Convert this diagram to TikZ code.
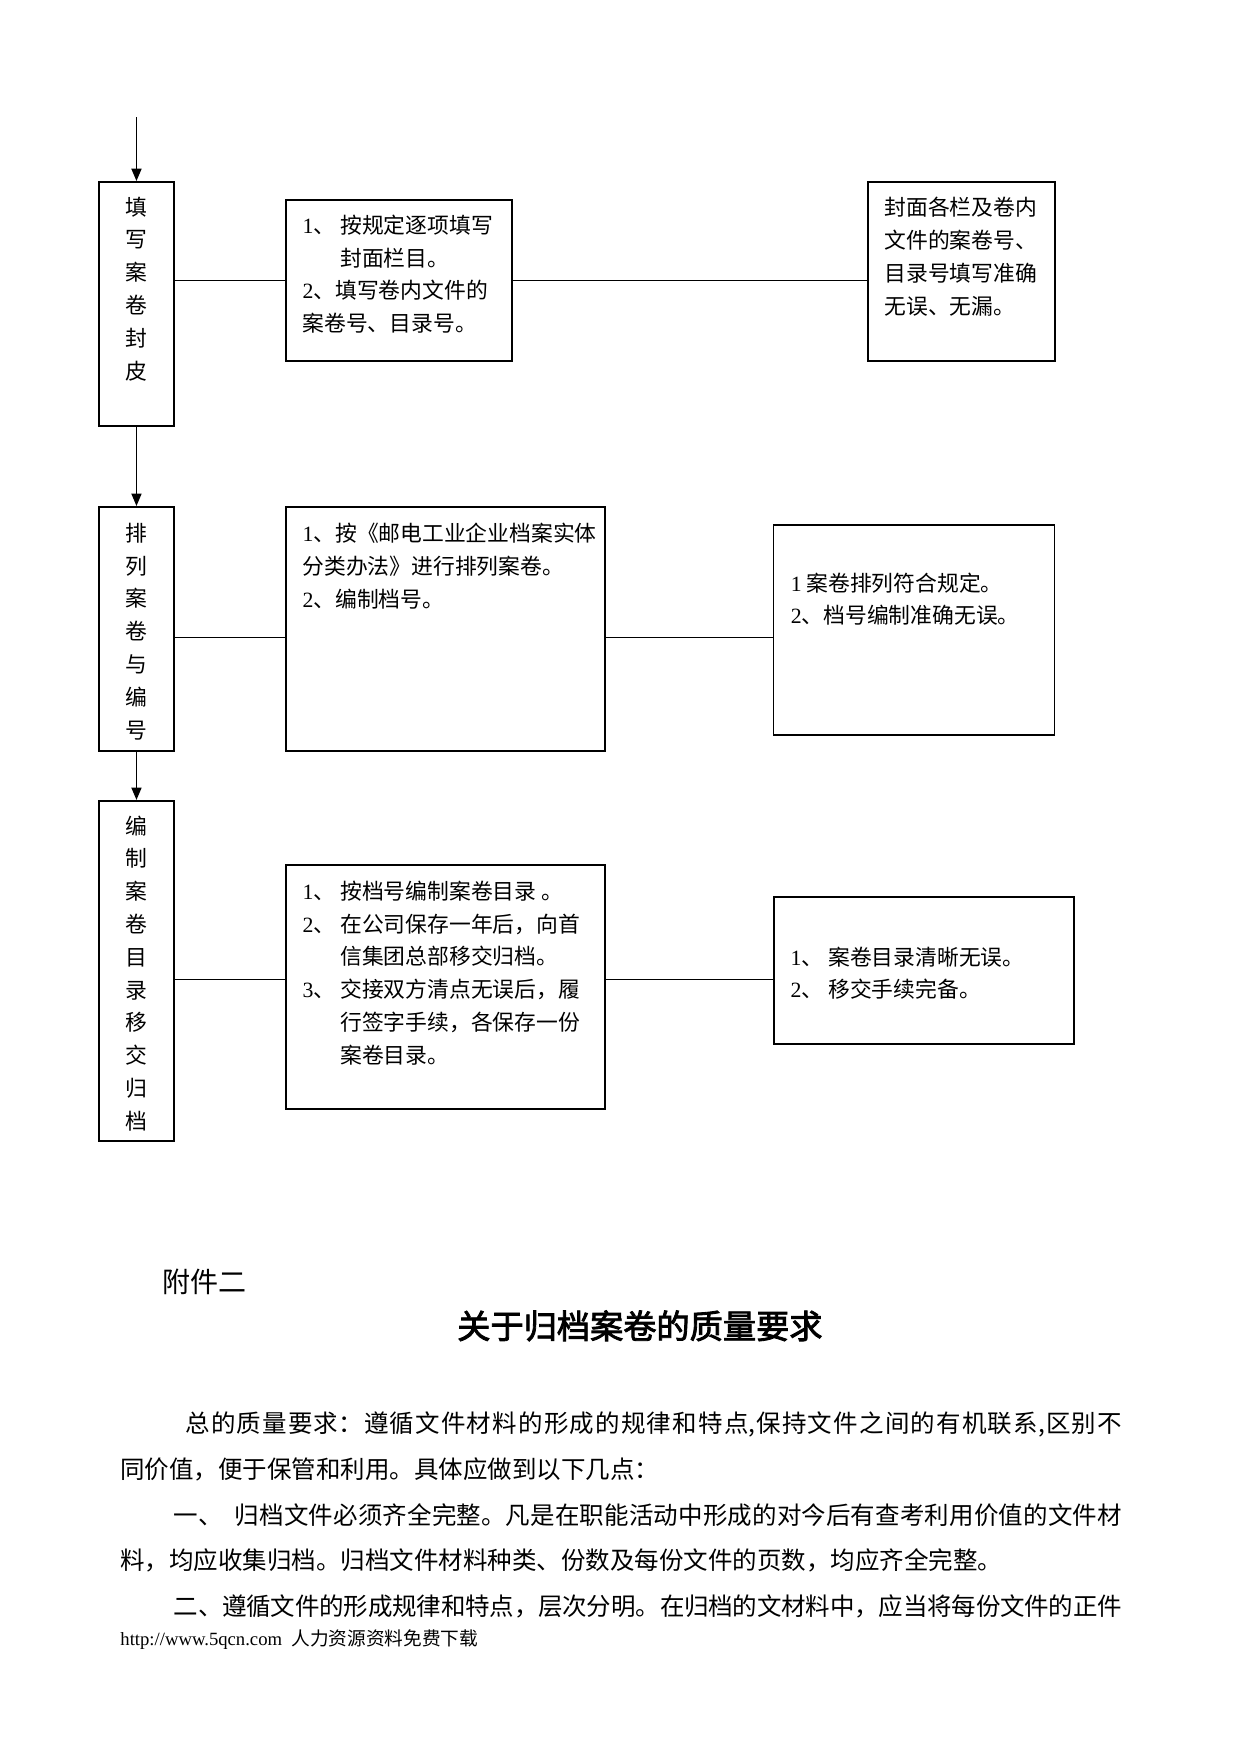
\documentclass[tikz,border=0pt]{standalone}
\usepackage{fontspec}
\setmainfont{Liberation Serif}
\newfontfamily\cjk{Noto Sans CJK SC}[AutoFakeBold=2.5]
\XeTeXlinebreaklocale "zh"
\XeTeXlinebreakskip=0pt plus 1pt minus 0.5pt
\usetikzlibrary{arrows.meta, positioning}
\newcommand\nr[1]{{\rmfamily #1}}
\newcommand\itm[1]{\makebox[0.64cm][l]{\nr{#1}、}}
\tikzset{
    box_step/.style={
        rectangle, draw=black, line width=0.9pt,
        minimum width=1.27cm, inner sep=0pt
    },
    box_work/.style={
        rectangle, draw=black, line width=0.9pt, inner sep=0pt
    },
    box_check/.style={
        rectangle, draw=black, line width=0.8pt, inner sep=0pt
    },
    flow_arrow/.style={
        -{Triangle[length=2.1mm,width=1.7mm]}, line width=0.8pt
    },
    link_line/.style={line width=0.55pt},
    lbl_box/.style={
        font=\cjk\fontsize{10.5}{15.8}\selectfont, align=left, inner sep=0pt
    },
    lbl_step/.style={lbl_box, align=center},
    lbl_body/.style={
        font=\cjk\fontsize{11.8}{22.15}\selectfont,
        text width=16.96cm, align=justify, inner sep=0pt
    }
}

\begin{document}
\begin{tikzpicture}
    \useasboundingbox (0,0) rectangle (21.01,-29.70);

    % Left column
    \coordinate (top) at (2.311,-1.989);
    \node[box_step, minimum height=4.131cm] (step1) at (2.311,-5.147) {};
    \node[box_step, minimum height=4.131cm] (step2) at (2.311,-10.649) {};
    \node[box_step, minimum height=5.756cm] (step3) at (2.311,-16.439) {};
    \node[lbl_step, below=0.26cm of step1.north] (step1_t) {填\\写\\案\\卷\\封\\皮};
    \node[lbl_step, below=0.28cm of step2.north] (step2_t) {排\\列\\案\\卷\\与\\编\\号};
    \node[lbl_step, below=0.26cm of step3.north] (step3_t) {编\\制\\案\\卷\\目\\录\\移\\交\\归\\档};

    % Work boxes
    \node[box_work, minimum width=3.826cm, minimum height=2.726cm] (work1) at (6.755,-4.749) {};
    \node[box_work, minimum width=5.401cm, minimum height=4.131cm] (work2) at (7.542,-10.649) {};
    \node[box_work, minimum width=5.401cm, minimum height=4.131cm] (work3) at (7.542,-16.710) {};
    \node[lbl_box, below right=0.26cm and 0.29cm of work1.north west] (work1_t)
        {\itm{1}按规定逐项填写\\\hspace*{0.64cm}封面栏目。\\\nr{2}、填写卷内文件的\\案卷号、目录号。};
    \node[lbl_box, below right=0.28cm and 0.29cm of work2.north west] (work2_t)
        {\nr{1}、按《邮电工业企业档案实体\\分类办法》进行排列案卷。\\\nr{2}、编制档号。};
    \node[lbl_box, below right=0.28cm and 0.29cm of work3.north west] (work3_t)
        {\itm{1}按档号编制案卷目录\ 。\\\itm{2}在公司保存一年后，向首\\\hspace*{0.64cm}信集团总部移交归档。\\\itm{3}交接双方清点无误后，履\\\hspace*{0.64cm}行签字手续，各保存一份\\\hspace*{0.64cm}案卷目录。};

    % Check boxes
    \node[box_check, line width=0.9pt, minimum width=3.166cm, minimum height=3.030cm] (check1) at (16.278,-4.597) {};
    \node[box_check, line width=0.6pt, minimum width=4.757cm, minimum height=3.555cm] (check2) at (15.482,-10.666) {};
    \node[box_check, minimum width=5.079cm, minimum height=2.489cm] (check3) at (15.643,-16.431) {};
    \node[lbl_box, below right=0.27cm and 0.29cm of check1.north west] (check1_t)
        {封面各栏及卷内\\文件的案卷号、\\目录号填写准确\\无误、无漏。};
    \node[lbl_box, below right=0.81cm and 0.29cm of check2.north west] (check2_t)
        {\nr{1} 案卷排列符合规定。\\\nr{2}、档号编制准确无误。};
    \node[lbl_box, below right=0.85cm and 0.29cm of check3.north west] (check3_t)
        {\itm{1}案卷目录清晰无误。\\\itm{2}移交手续完备。};

    % Connectors
    \draw[flow_arrow] (top) -- (step1);
    \draw[flow_arrow] (step1) -- (step2);
    \draw[flow_arrow] (step2) -- (step3);
    \coordinate (row2) at (0,-10.80);
    \coordinate (row3) at (0,-16.59);
    \draw[link_line] (work1.west -| step1.east) -- (work1.west);
    \draw[link_line] (work1.east) -- (work1.east -| check1.west);
    \draw[link_line] (row2 -| step2.east) -- (row2 -| work2.west);
    \draw[link_line] (row2 -| work2.east) -- (row2 -| check2.west);
    \draw[link_line] (row3 -| step3.east) -- (row3 -| work3.west);
    \draw[link_line] (row3 -| work3.east) -- (row3 -| check3.west);

    % Page text below
    \node[font=\cjk\fontsize{13.5}{16}\selectfont, anchor=west, inner sep=0pt] (annex) at (2.743,-21.70) {附件二};
    \node[font=\cjk\bfseries\fontsize{16}{19}\selectfont, inner sep=0pt] (title) at (10.835,-22.45) {关于归档案卷的质量要求};
    \node[lbl_body, anchor=north west] (body) at (2.032,-23.89) {%
        \hspace*{1.10cm}总的质量要求：遵循文件材料的形成的规律和特点,保持文件之间的有机联系,区别不\linebreak
        同价值，便于保管和利用。具体应做到以下几点：\par
        \hspace*{0.90cm}一、\enspace 归档文件必须齐全完整。凡是在职能活动中形成的对今后有查考利用价值的文件材\linebreak
        料，均应收集归档。归档文件材料种类、份数及每份文件的页数，均应齐全完整。\par
        {\parfillskip=0pt\hspace*{0.90cm}二、遵循文件的形成规律和特点，层次分明。在归档的文材料中，应当将每份文件的正件\par}};
    \node[font=\cjk\fontsize{9}{11}\selectfont, anchor=west, inner sep=0pt] (foot) at (2.032,-27.77)
        {\rmfamily http://www.5qcn.com\ \ \cjk 人力资源资料免费下载};
\end{tikzpicture}
\end{document}
